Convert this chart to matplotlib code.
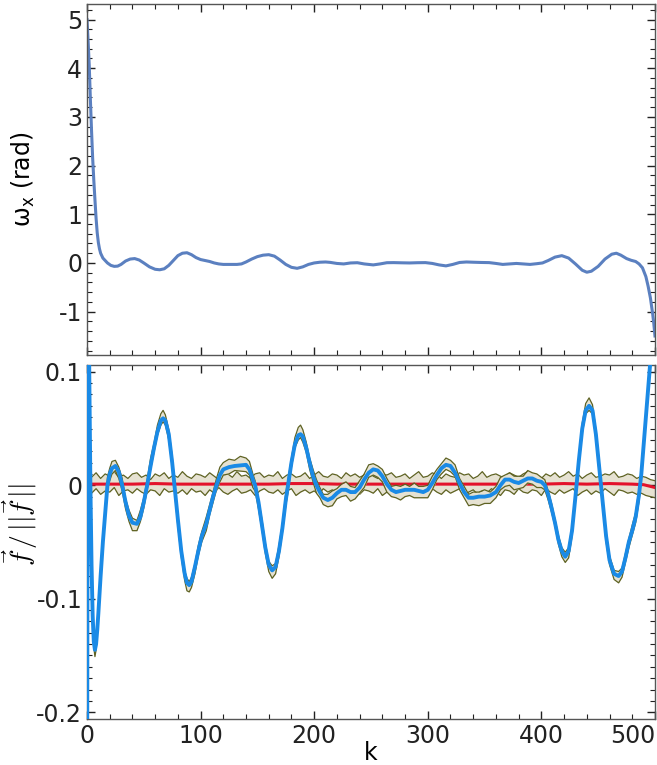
import numpy as np
import matplotlib
matplotlib.use("Agg")
import matplotlib.pyplot as plt
from matplotlib.ticker import MultipleLocator

plt.rcParams['font.family'] = ['DejaVu Sans']
plt.rcParams['axes.unicode_minus'] = False

# top panel: omega_x
omega_k = [0, 1, 2, 3, 4, 5, 6, 7, 8, 9, 10, 11, 12, 14, 16, 18, 21, 24, 27, 30,
           34, 38, 42, 46, 50, 55, 60, 64, 68, 72, 76, 80, 84, 88, 92, 96, 100, 104, 108, 112,
           116, 120, 124, 128, 132, 136, 140, 145, 150, 155, 160, 165, 170, 175, 180, 185, 190, 195, 200, 205,
           210, 214, 220, 226, 232, 238, 244, 252, 258, 264, 270, 277, 284, 291, 298, 304, 310, 316, 322, 328,
           334, 340, 347, 354, 360, 366, 372, 378, 384, 390, 396, 401, 406, 412, 418, 424, 430, 436, 440, 444,
           450, 456, 462, 466, 470, 475, 479, 483, 486, 489, 492, 494, 496, 498, 499, 500]
omega = [5.0, 4.55, 4.05, 3.35, 2.72, 2.15, 1.7, 1.3, 0.92, 0.62, 0.42, 0.29, 0.2, 0.1, 0.05, 0.0, -0.05, -0.07, -0.065, -0.03,
         0.04, 0.08, 0.09, 0.06, 0.0, -0.08, -0.13, -0.14, -0.12, -0.05, 0.05, 0.15, 0.2, 0.21, 0.17, 0.11, 0.07, 0.05, 0.03, 0.0,
         -0.02, -0.03, -0.03, -0.03, -0.03, -0.02, 0.02, 0.08, 0.13, 0.16, 0.17, 0.14, 0.06, -0.03, -0.09, -0.11, -0.08, -0.03, 0.0, 0.015,
         0.02, 0.012, -0.01, -0.02, 0.0, 0.005, -0.02, -0.04, -0.02, 0.005, 0.007, 0.003, 0.0, 0.005, 0.007, -0.01, -0.04, -0.06, -0.03, 0.01,
         0.02, 0.015, 0.01, 0.007, -0.01, -0.03, -0.02, -0.01, -0.02, -0.03, -0.015, 0.0, 0.05, 0.12, 0.15, 0.1, -0.02, -0.15, -0.19, -0.17,
         -0.07, 0.08, 0.18, 0.2, 0.16, 0.09, 0.055, 0.03, -0.02, -0.1, -0.28, -0.48, -0.72, -1.05, -1.25, -1.5]

# bottom panel: normalised f, blue curve
blue_k = [0, 1, 2, 3, 4, 5, 6, 7, 8, 9,
          10, 12, 14, 16, 18, 20, 22, 25, 28, 31,
          34, 37, 40, 44, 47, 50, 53, 56, 59, 62,
          65, 67, 69, 72, 75, 77, 80, 83, 86, 88,
          90, 92, 95, 98, 101, 105, 108, 111, 114, 117,
          120, 125, 130, 135, 140, 143, 146, 148, 151, 154,
          157, 160, 163, 166, 169, 172, 175, 177, 180, 183,
          186, 188, 190, 193, 196, 199, 202, 205, 208, 212,
          216, 220, 224, 228, 232, 236, 240, 244, 248, 252,
          256, 260, 264, 268, 272, 276, 280, 284, 288, 292,
          296, 300, 304, 308, 312, 316, 320, 324, 328, 332,
          336, 340, 345, 350, 355, 360, 364, 368, 372, 376,
          380, 384, 388, 392, 396, 400, 403, 406, 409, 412,
          415, 418, 421, 424, 427, 430, 433, 436, 439, 442,
          445, 448, 451, 454, 457, 460, 464, 468, 471, 474,
          477, 480, 483, 486, 488, 490, 492, 494, 496, 498,
          500]
blue = [-0.35, 0.3, 0.1, 0.0, -0.07, -0.115, -0.138, -0.145, -0.14, -0.128,
        -0.113, -0.08, -0.05, -0.025, 0.0, 0.01, 0.015, 0.017, 0.012, 0.0,
        -0.015, -0.027, -0.033, -0.034, -0.028, -0.015, 0.0, 0.017, 0.033, 0.047,
        0.057, 0.059, 0.057, 0.045, 0.02, 0.0, -0.03, -0.058, -0.078, -0.086,
        -0.088, -0.085, -0.072, -0.058, -0.045, -0.034, -0.022, -0.01, 0.0, 0.009,
        0.014, 0.016, 0.017, 0.0175, 0.018, 0.014, 0.005, 0.0, -0.015, -0.035,
        -0.055, -0.07, -0.075, -0.072, -0.058, -0.038, -0.013, 0.0, 0.02, 0.036,
        0.044, 0.045, 0.043, 0.033, 0.02, 0.008, 0.0, -0.006, -0.011, -0.013,
        -0.011, -0.007, -0.004, -0.004, -0.006, -0.006, -0.002, 0.005, 0.011, 0.014,
        0.013, 0.008, 0.001, -0.004, -0.006, -0.005, -0.004, -0.004, -0.004, -0.005,
        -0.006, -0.004, 0.002, 0.009, 0.015, 0.018, 0.017, 0.011, 0.002, -0.006,
        -0.011, -0.011, -0.01, -0.01, -0.009, -0.006, 0.0, 0.005, 0.005, 0.003,
        0.002, 0.004, 0.006, 0.006, 0.004, 0.003, 0.0, -0.008, -0.02, -0.033,
        -0.048, -0.058, -0.063, -0.058, -0.04, -0.01, 0.022, 0.05, 0.066, 0.07,
        0.066, 0.045, 0.015, -0.015, -0.045, -0.066, -0.078, -0.08, -0.076, -0.064,
        -0.05, -0.04, -0.028, -0.008, 0.01, 0.035, 0.06, 0.085, 0.11, 0.14,
        0.17]
# spread of the blue curve, in 1e-3 units (above / below)
blue_up = [5, 5, 5, 5, 5, 5, 4, 4, 4, 5,
           5, 4, 6, 4, 7, 5, 6, 5, 4, 6,
           3, 5, 4, 3, 6, 4, 5, 7, 4, 6,
           6, 7, 5, 4, 6, 5, 3, 4, 3, 4,
           3, 4, 3, 5, 4, 6, 5, 4, 6, 7,
           6, 7, 5, 8, 6, 7, 5, 4, 3, 5,
           4, 3, 4, 3, 5, 4, 6, 5, 4, 6,
           7, 8, 6, 5, 4, 6, 5, 4, 3, 5,
           6, 4, 5, 7, 5, 4, 6, 5, 7, 5,
           4, 6, 5, 3, 6, 4, 5, 3, 6, 4,
           5, 4, 6, 5, 4, 6, 5, 7, 4, 5,
           3, 5, 4, 6, 3, 5, 7, 4, 6, 5,
           6, 4, 7, 5, 6, 4, 5, 3, 4, 3,
           4, 3, 4, 3, 4, 5, 4, 5, 6, 7,
           5, 4, 5, 4, 3, 4, 3, 4, 3, 4,
           3, 5, 4, 5, 4, 5, 4, 5, 4, 5,
           5]
blue_dn = [5, 5, 5, 5, 5, 5, 5, 6, 5, 5,
           4, 5, 4, 5, 4, 6, 5, 4, 6, 5,
           6, 5, 7, 6, 4, 5, 4, 3, 4, 3,
           4, 3, 4, 5, 4, 5, 6, 5, 6, 7,
           6, 5, 6, 4, 5, 6, 4, 5, 4, 6,
           5, 6, 4, 5, 6, 5, 7, 5, 6, 4,
           5, 6, 7, 6, 5, 4, 5, 6, 4, 3,
           4, 3, 5, 4, 6, 5, 7, 5, 6, 6,
           7, 5, 6, 5, 8, 6, 5, 7, 4, 5,
           6, 5, 7, 6, 5, 8, 6, 5, 7, 6,
           5, 7, 6, 4, 5, 4, 5, 3, 6, 5,
           7, 6, 8, 6, 7, 5, 4, 6, 5, 7,
           5, 6, 4, 5, 6, 5, 4, 5, 4, 3,
           4, 5, 5, 6, 5, 4, 5, 4, 3, 4,
           3, 4, 5, 4, 5, 4, 5, 6, 5, 4,
           5, 4, 5, 6, 4, 5, 4, 5, 4, 5,
           5]

# red curve (mean) and its spread, 1e-3 units
red_k = [0, 20, 40, 60, 80, 100, 120, 140, 160, 180, 200, 220, 240, 260,
         280, 300, 320, 340, 360, 380, 400, 420, 440, 460, 480, 490, 500]
red = [1.0, 1.0, 1.0, 1.5, 1.0, 1.0, 1.0, 1.0, 1.0, 1.5, 1.5, 1.0, 1.0, 1.0,
       1.0, 1.0, 1.0, 1.0, 1.0, 1.0, 1.0, 1.5, 1.0, 1.5, 1.0, 0.5, -2.0]
band_k = list(range(0, 501, 4))
band_up = [9, 7, 11, 6, 10, 8, 12, 7, 9, 6, 10, 11, 7, 9, 5, 10, 8, 11, 6, 9,
           7, 12, 8, 6, 10, 9, 7, 11, 8, 5, 9, 10, 7, 12, 8, 9, 6, 10, 11, 7,
           9, 8, 12, 6, 9, 10, 7, 8, 11, 6, 9, 12, 8, 7, 10, 9, 6, 11, 8, 10,
           7, 9, 12, 8, 6, 10, 9, 11, 7, 8, 10, 6, 9, 12, 7, 8, 11, 9, 6, 10,
           8, 7, 11, 9, 10, 6, 8, 12, 7, 9, 10, 8, 6, 11, 9, 7, 10, 12, 8, 9,
           6, 10, 8, 11, 7, 9, 12, 8, 10, 6, 9, 11, 7, 8, 10, 9, 12, 7, 8, 10,
           9, 6, 8, 7, 5, 4]
band_dn = [-4, -7, -3, -8, -5, -6, -2, -9, -5, -4, -7, -3, -6, -8, -4, -5, -9, -3, -6, -5,
           -7, -4, -8, -3, -6, -5, -9, -4, -7, -2, -6, -8, -5, -3, -7, -6, -4, -9, -5, -3,
           -6, -7, -4, -8, -5, -3, -9, -6, -4, -7, -5, -8, -3, -6, -4, -7, -9, -5, -3, -6,
           -8, -4, -5, -7, -3, -9, -6, -4, -5, -8, -3, -6, -7, -4, -9, -5, -3, -6, -8, -4,
           -7, -5, -3, -9, -6, -4, -8, -5, -7, -3, -6, -9, -4, -5, -8, -3, -6, -7, -4, -5,
           -9, -3, -6, -8, -4, -7, -5, -3, -9, -6, -4, -8, -5, -7, -3, -6, -9, -4, -5, -7,
           -6, -8, -7, -9, -10, -11]

x_ticks = [0, 100, 200, 300, 400, 500]

olive = '#5e6222'
beige = '#e6e2d2'

fig = plt.figure(figsize=(6.57, 7.65), dpi=100)
ax1 = fig.add_axes([0.1324, 0.536, 0.8645, 0.4588])
ax2 = fig.add_axes([0.1324, 0.0601, 0.8645, 0.4628])

# top
ax1.plot(omega_k, omega, color='#5b80c0', lw=2.2)
ax1.set_xlim(0, 500)
ax1.set_ylim(-1.89, 5.32)
ax1.yaxis.set_major_locator(MultipleLocator(1))
ax1.yaxis.set_minor_locator(MultipleLocator(0.2))
ax1.set_ylabel('ω$_\\mathrm{x}$ (rad)', fontsize=17)
ax1.yaxis.set_label_coords(-0.088, 0.5)

# bottom
bk = np.array(blue_k)
bv = np.array(blue)
b_hi = bv + np.array(blue_up) / 1000
b_lo = bv - np.array(blue_dn) / 1000
r_hi = np.array(band_up) / 1000
r_lo = np.array(band_dn) / 1000

ax2.fill_between(band_k, r_lo, r_hi, color=beige, lw=0, zorder=1)
ax2.plot(band_k, r_hi, color=olive, lw=0.9, zorder=2)
ax2.plot(band_k, r_lo, color=olive, lw=0.9, zorder=2)
ax2.plot(red_k, np.array(red) / 1000, color='#e3122b', lw=2.2, zorder=3)
ax2.fill_between(bk, b_lo, b_hi, color=beige, lw=0, zorder=4)
ax2.plot(bk, b_hi, color=olive, lw=0.9, zorder=5)
ax2.plot(bk, b_lo, color=olive, lw=0.9, zorder=5)
ax2.plot(bk, bv, color='#1a8ae6', lw=2.8, zorder=6)
ax2.set_xlim(0, 500)
ax2.set_ylim(-0.206, 0.106)
ax2.yaxis.set_major_locator(MultipleLocator(0.1))
ax2.yaxis.set_minor_locator(MultipleLocator(0.01))
ax2.set_yticks([-0.2, -0.1, 0, 0.1])
ax2.set_yticklabels(['-0.2', '-0.1', '0', '0.1'])
ax2.set_ylabel(r'$\vec{f}\,/\,||\vec{f}\,||$', fontsize=20, math_fontfamily='cm')
ax2.yaxis.set_label_coords(-0.083, 0.55)
ax2.set_xlabel('k', fontsize=17)
ax2.xaxis.set_label_coords(0.5, -0.062)

for ax in (ax1, ax2):
    ax.set_xticks(x_ticks)
    ax.xaxis.set_minor_locator(MultipleLocator(20))
    ax.tick_params(which='both', direction='in', top=True, right=True, labelsize=17, colors='#222222')
    ax.tick_params(which='major', length=6, width=1)
    ax.tick_params(which='minor', length=3.5, width=0.8)
    for s in ax.spines.values():
        s.set_color('#555555')
        s.set_linewidth(1.0)

ax1.set_yticks([-1, 0, 1, 2, 3, 4, 5])
ax1.set_yticklabels(['-1', '0', '1', '2', '3', '4', '5'])
ax1.tick_params(axis='x', labelbottom=False)
ax2.set_xticklabels([str(t) for t in x_ticks])
# last tick label sits inside the frame in the original
ax2.get_xticklabels()[-1].set_horizontalalignment('right')
ax2.get_xticklabels()[0].set_horizontalalignment('center')

fig.savefig('out.png', dpi=100)
